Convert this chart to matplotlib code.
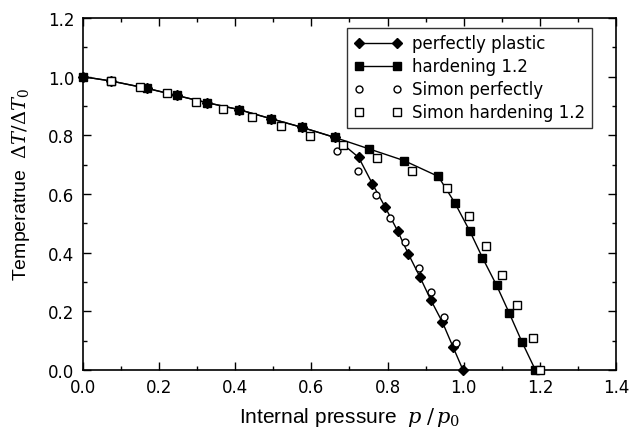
import matplotlib
matplotlib.use("Agg")
import matplotlib.pyplot as plt
from matplotlib.ticker import MultipleLocator

# Data
pp_x = [0.0, 0.075, 0.169, 0.246, 0.327, 0.409, 0.493, 0.576, 0.661,
        0.724, 0.760, 0.793, 0.826, 0.854, 0.885, 0.913, 0.944, 0.972, 0.998]
pp_y = [1.0, 0.985, 0.960, 0.936, 0.911, 0.888, 0.857, 0.827, 0.793,
        0.725, 0.635, 0.557, 0.475, 0.397, 0.317, 0.240, 0.163, 0.078, 0.0]

hd_x = [0.0, 0.075, 0.169, 0.246, 0.327, 0.409, 0.493, 0.576, 0.661,
        0.751, 0.843, 0.933, 0.976, 1.016, 1.049, 1.086, 1.119, 1.153, 1.188]
hd_y = [1.0, 0.985, 0.960, 0.936, 0.911, 0.888, 0.857, 0.827, 0.793,
        0.754, 0.714, 0.660, 0.571, 0.473, 0.383, 0.289, 0.195, 0.095, 0.0]

sp_x = [0.075, 0.150, 0.221, 0.296, 0.368, 0.444, 0.519, 0.596, 0.668,
        0.723, 0.769, 0.806, 0.846, 0.883, 0.915, 0.948, 0.979]
sp_y = [0.985, 0.965, 0.943, 0.913, 0.891, 0.862, 0.831, 0.799, 0.748,
        0.677, 0.597, 0.519, 0.435, 0.348, 0.266, 0.180, 0.091]

sh_x = [0.075, 0.150, 0.221, 0.296, 0.368, 0.444, 0.519, 0.596, 0.682,
        0.771, 0.865, 0.957, 1.013, 1.057, 1.099, 1.140, 1.182, 1.201]
sh_y = [0.985, 0.965, 0.943, 0.913, 0.891, 0.862, 0.831, 0.799, 0.768,
        0.723, 0.677, 0.620, 0.525, 0.424, 0.325, 0.223, 0.110, 0.0]

x_ticks = [0.0, 0.2, 0.4, 0.6, 0.8, 1.0, 1.2, 1.4]
y_ticks = [0.0, 0.2, 0.4, 0.6, 0.8, 1.0, 1.2]

plt.rcParams['font.family'] = ['DejaVu Sans']
plt.rcParams['mathtext.fontset'] = 'dejavuserif'

fig = plt.figure(figsize=(6.32, 4.31), dpi=100)
ax = fig.add_axes([0.131, 0.139, 0.844, 0.817])

ax.plot(pp_x, pp_y, color='black', lw=1.0, marker='D', ms=5.0,
        mfc='black', mec='black', label='perfectly plastic', zorder=3,
        clip_on=False)
ax.plot(hd_x, hd_y, color='black', lw=1.0, marker='s', ms=6.0,
        mfc='black', mec='black', label='hardening 1.2', zorder=4,
        clip_on=False)
ax.plot(sp_x, sp_y, ls='none', marker='o', ms=5.0, mfc='white',
        mec='black', mew=1.0, label='Simon perfectly', zorder=5,
        clip_on=False)
ax.plot(sh_x, sh_y, ls='none', marker='s', ms=6.0, mfc='white',
        mec='black', mew=1.0, label='Simon hardening 1.2', zorder=5,
        clip_on=False)

ax.set_xlim(0.0, 1.4)
ax.set_ylim(0.0, 1.2)
ax.set_xticks(x_ticks)
ax.set_yticks(y_ticks)
ax.set_xticklabels([f"{v:.1f}" for v in x_ticks])
ax.set_yticklabels([f"{v:.1f}" for v in y_ticks])
ax.xaxis.set_minor_locator(MultipleLocator(0.1))
ax.yaxis.set_minor_locator(MultipleLocator(0.1))
ax.tick_params(which='both', direction='in', top=True, right=True,
               labelsize=12, color='black')
ax.tick_params(which='major', length=6, width=1.0, pad=6)
ax.tick_params(which='minor', length=3, width=1.0)
for s in ax.spines.values():
    s.set_linewidth(1.2)

ax.set_xlabel(r'Internal pressure  $p\;/\,p_0$', fontsize=15,
              family=['Liberation Sans'], labelpad=6)
ax.set_ylabel(r'Temperatrue  $\Delta T/\Delta T_0$', fontsize=14,
              family=['Liberation Sans'], labelpad=6)
ax.yaxis.set_label_coords(-0.095, 0.53)

leg = ax.legend(loc='upper right', bbox_to_anchor=(0.955, 0.972),
                numpoints=2, fontsize=12, frameon=True, fancybox=False,
                edgecolor='black', handlelength=2.9, handletextpad=0.6,
                borderpad=0.4, labelspacing=0.3, borderaxespad=0.0)
leg.get_frame().set_linewidth(1.0)

fig.savefig('out.png', dpi=100)
